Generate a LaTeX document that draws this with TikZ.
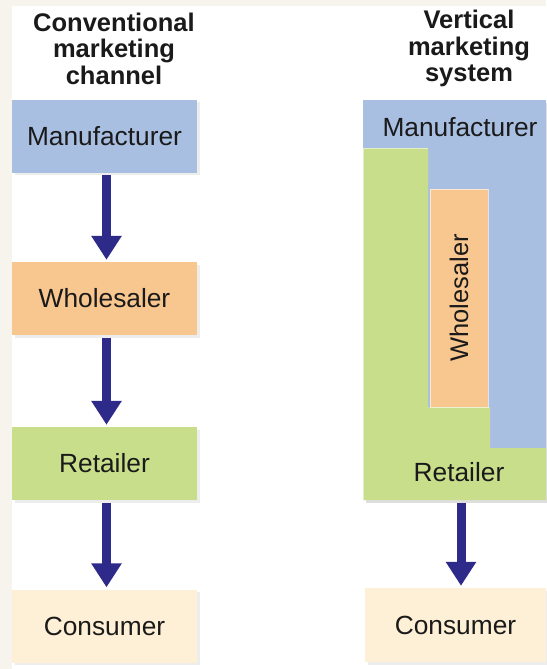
\documentclass[tikz,border=0pt]{standalone}
\usepackage{fontspec}
\setmainfont{Liberation Sans}
\usetikzlibrary{arrows.meta,shadows}
\definecolor{bgcream}{HTML}{F7F4EE}
\definecolor{mfgblue}{HTML}{A9BFE2}
\definecolor{whorange}{HTML}{F8C68F}
\definecolor{retgreen}{HTML}{C8DE8B}
\definecolor{conscream}{HTML}{FDF0D6}
\definecolor{arrowc}{HTML}{2E2A8A}
\definecolor{txt}{HTML}{1A1A1A}
\begin{document}
\begin{tikzpicture}[x=1pt,y=-1pt,
  boxbase/.style={rectangle, inner sep=0pt, minimum width=185pt, minimum height=73pt,
    font=\fontsize{26.3}{28}\selectfont, text=txt},
  shade/.style={drop shadow={shadow xshift=2.5pt,shadow yshift=-2.5pt,opacity=0.14}},
  flow/.style={line width=9pt, draw=arrowc, -{Triangle[width=29pt,length=24pt]},
    shorten <=2.5pt, shorten >=2pt},
  title/.style={align=center, font=\bfseries\fontsize{25.5}{26.5}\selectfont, text=txt},
  lbl/.style={inner sep=0pt, font=\fontsize{26.3}{28}\selectfont, text=txt}]
\useasboundingbox (0,0) rectangle (546,669);
\fill[bgcream] (0,0) rectangle (546,669);
\fill[white] (12,6) rectangle (546,669);

% titles
\node[title] (t1) at (114,48.5) {Conventional\\marketing\\channel};
\node[title] (t2) at (469,48.5) {Vertical\\marketing\\system};

% conventional channel
\node[boxbase, shade, fill=mfgblue]   (m) at (104.5,136)   {Manufacturer};
\node[boxbase, shade, fill=whorange]  (w) at (104.5,298.5) {Wholesaler};
\node[boxbase, shade, fill=retgreen]  (r) at (104.5,463.5) {Retailer};
\node[boxbase, shade, fill=conscream] (c) at (104.5,626)   {Consumer};
\draw[flow] ([xshift=2pt]m.south) -- ([xshift=2pt]w.north);
\draw[flow] ([xshift=2pt]w.south) -- ([xshift=2pt]r.north);
\draw[flow] ([xshift=2pt]r.south) -- ([xshift=2pt]c.north);

% vertical marketing system
\fill[black, opacity=0.13] (365.5,102.5) rectangle (548.5,502.5);
\node[rectangle, inner sep=0pt, fill=mfgblue, minimum width=183pt, minimum height=348pt]
  (vman) at (454.5,274) {};
\node[lbl] (vmanl) at (460,127) {Manufacturer};
\fill[retgreen] (363,148) -- (428,148) -- (428,407) -- (490,407) -- (490,448)
  -- (546,448) -- (546,500) -- (363,500) -- cycle;
\draw[white, opacity=0.5, line width=0.8pt] (363.4,500) -- (363.4,148.4) -- (428,148.4);
\node[rectangle, inner sep=0pt, fill=whorange, draw=white, draw opacity=0.6, line width=1pt,
  rotate=90, minimum width=218pt, minimum height=58pt, font=\fontsize{25.5}{27}\selectfont, text=txt]
  (vw) at (459,298) {Wholesaler};
\node[lbl] (vretl) at (459,472) {Retailer};
\coordinate (vretb) at (461,500);
\node[rectangle, inner sep=0pt, shade, fill=conscream, minimum width=181pt, minimum height=74pt,
  font=\fontsize{26.3}{28}\selectfont, text=txt] (vc) at (455.5,625) {Consumer};
\draw[flow] (vretb) -- (vretb |- vc.north);
\end{tikzpicture}
\end{document}
